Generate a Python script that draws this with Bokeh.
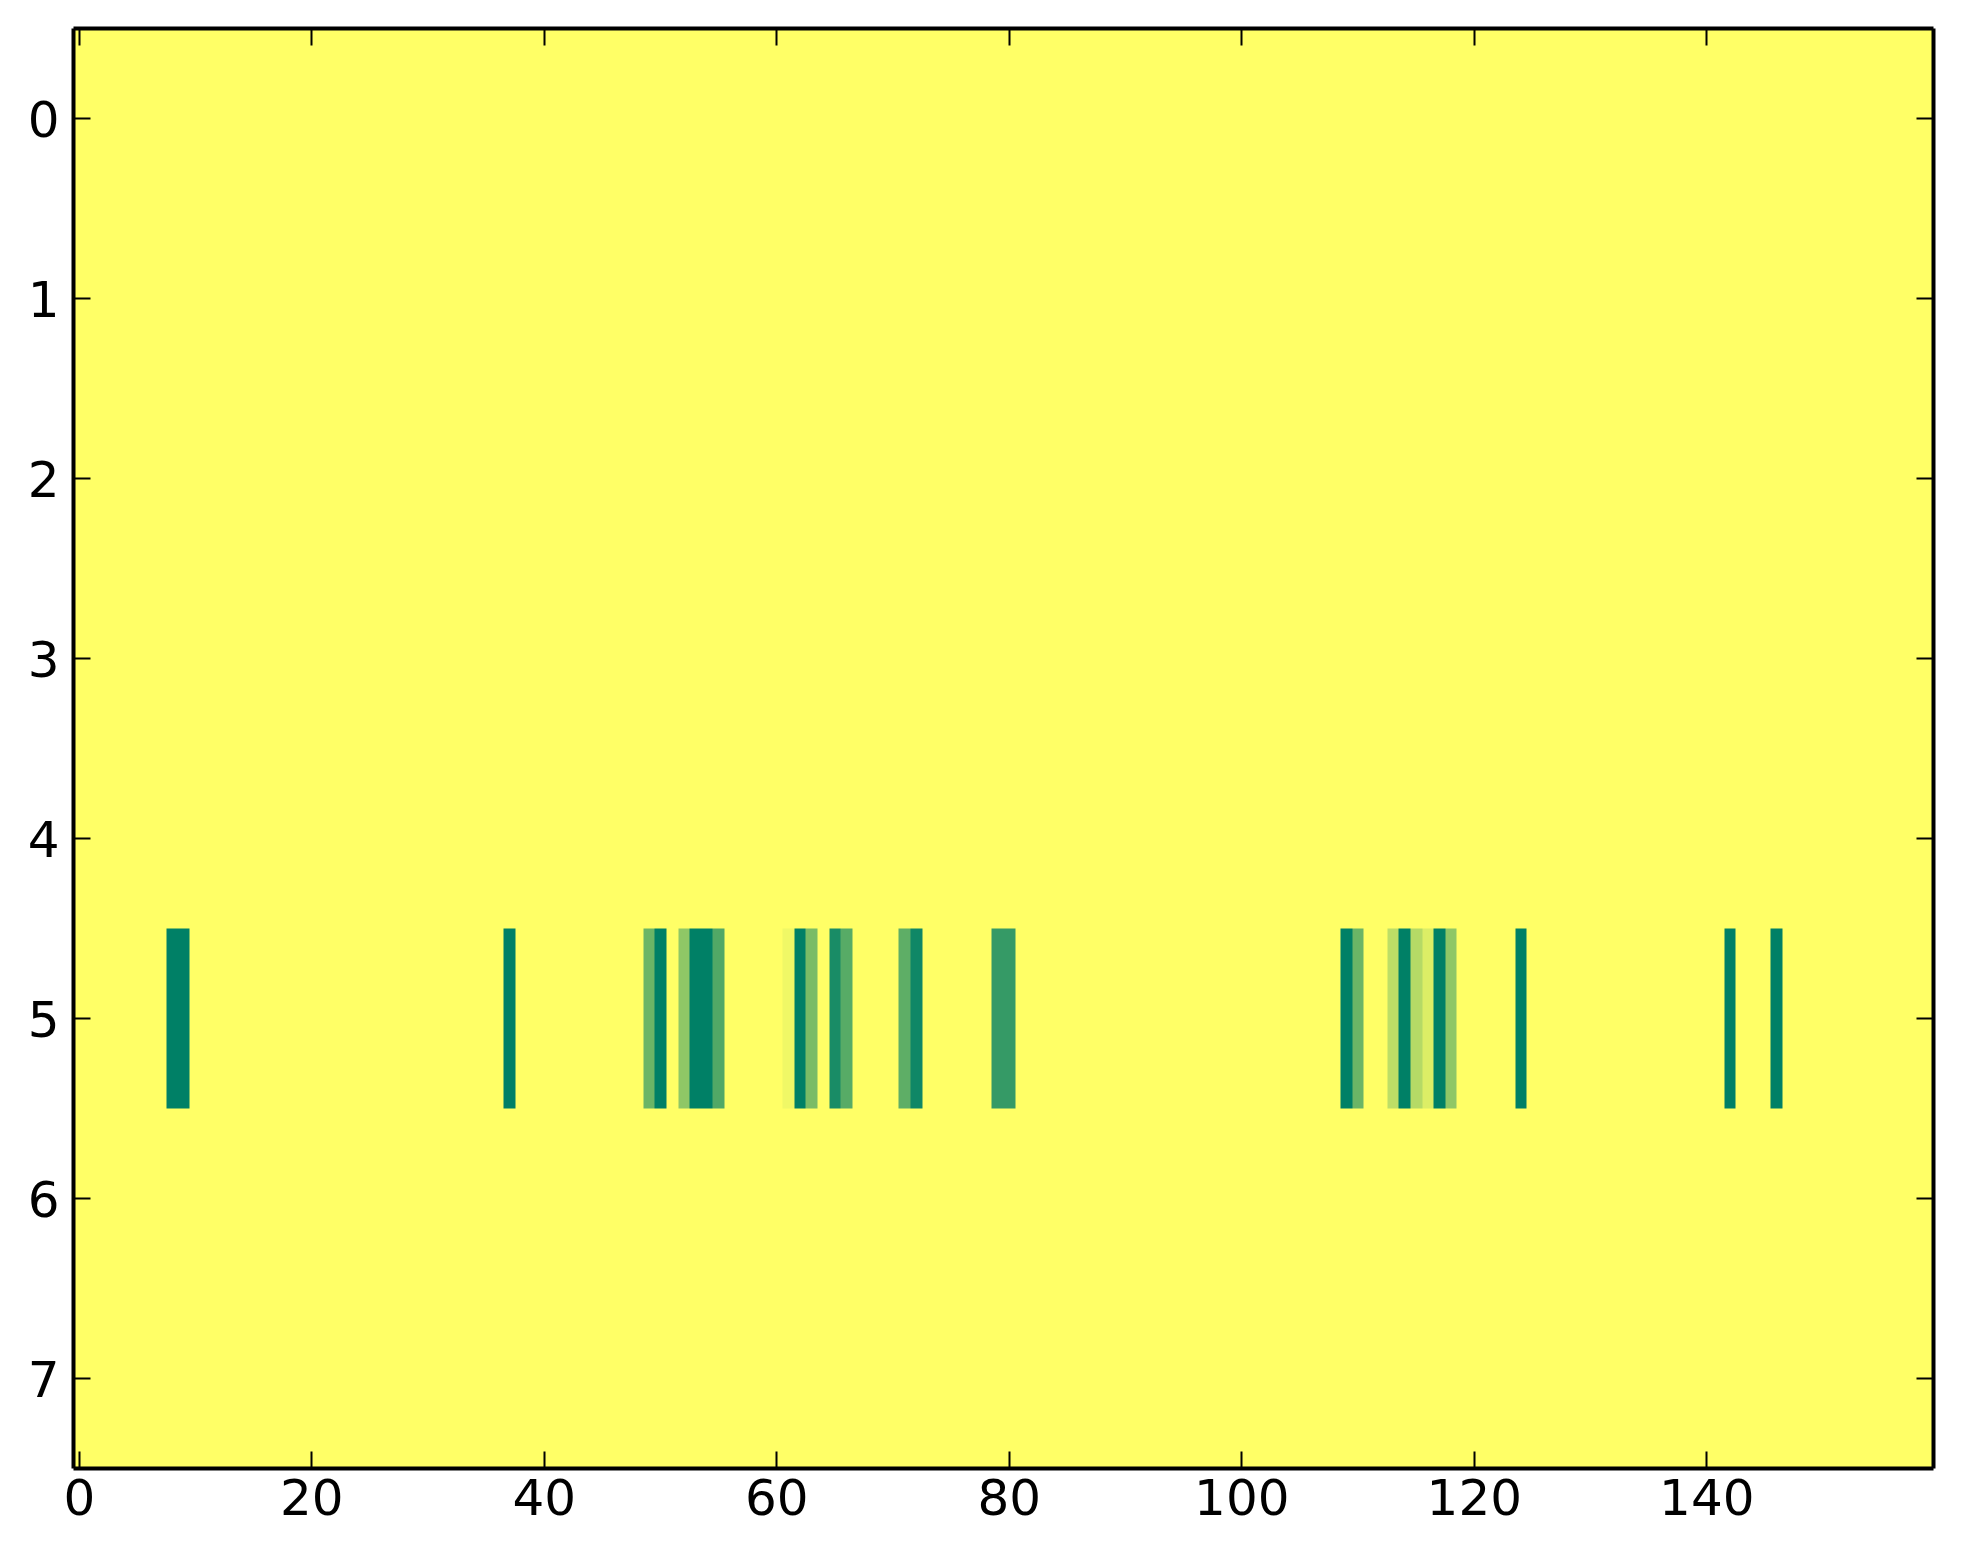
import numpy as np
from bokeh.plotting import figure
from bokeh.models import Range1d, LinearAxis, LinearColorMapper, FixedTicker
from bokeh.embed import file_html
from bokeh.resources import INLINE

# ---- data ----
n_rows = 8
n_cols = 160
active_row = 5
bar_cols = [8, 9, 37, 49, 50, 52, 53, 54, 55, 61, 62, 63, 65, 66, 71, 72, 79, 80,
            109, 110, 113, 114, 115, 116, 117, 118, 124, 142, 146]
bar_vals = [1.0, 1.0, 1.0, 0.58, 1.0, 0.44, 1.0, 1.0, 0.68, 0.06, 1.0, 0.52, 0.90, 0.66,
            0.63, 0.94, 0.79, 0.79, 1.0, 0.58, 0.26, 1.0, 0.29, 0.14, 1.0, 0.44, 1.0, 1.0, 1.0]
x_ticks = [0, 20, 40, 60, 80, 100, 120, 140]
y_ticks = [0, 1, 2, 3, 4, 5, 6, 7]

grid = np.zeros((n_rows, n_cols))
for c, v in zip(bar_cols, bar_vals):
    grid[active_row, c] = v

# summer_r colormap
palette = []
for i in range(256):
    t = 1 - i / 255
    r, g, b = t, 0.5 + 0.5 * t, 0.4
    palette.append("#%02x%02x%02x" % (int(round(r * 255)), int(round(g * 255)), int(round(b * 255))))
mapper = LinearColorMapper(palette=palette, low=0, high=1)

p = figure(width=1953, height=1548, output_backend="svg", toolbar_location=None,
           x_range=Range1d(-0.5, n_cols - 0.5), y_range=Range1d(n_rows - 0.5, -0.5),
           min_border_left=73, min_border_top=28, min_border_right=20, min_border_bottom=80,
           x_axis_location="below", y_axis_location="left")
p.xgrid.visible = False
p.ygrid.visible = False
p.outline_line_color = None
p.background_fill_color = "white"
p.border_fill_color = "white"

p.image(image=[grid], x=-0.5, y=-0.5, dw=n_cols, dh=n_rows, color_mapper=mapper)

FONT = "DejaVu Sans"

def style(ax, ticks, show_labels, standoff):
    ax.ticker = FixedTicker(ticks=ticks)
    ax.minor_tick_line_color = None
    ax.major_tick_in = 17
    ax.major_tick_out = 0
    ax.major_tick_line_width = 2
    ax.major_tick_line_color = "black"
    ax.axis_line_width = 4
    ax.axis_line_color = "black"
    ax.major_label_text_font = FONT
    if show_labels:
        ax.major_label_text_color = "black"
        ax.major_label_text_font_size = "50px"
        ax.major_label_standoff = standoff
    else:
        ax.major_label_text_color = None
        ax.major_label_text_font_size = "2px"
        ax.major_label_standoff = 0

style(p.xaxis[0], x_ticks, True, 10)
style(p.yaxis[0], y_ticks, True, 14)

top = LinearAxis()
style(top, x_ticks, False, 0)
p.add_layout(top, "above")
right = LinearAxis()
style(right, y_ticks, False, 0)
p.add_layout(right, "right")

open("out.html", "w").write(file_html(p, INLINE))
